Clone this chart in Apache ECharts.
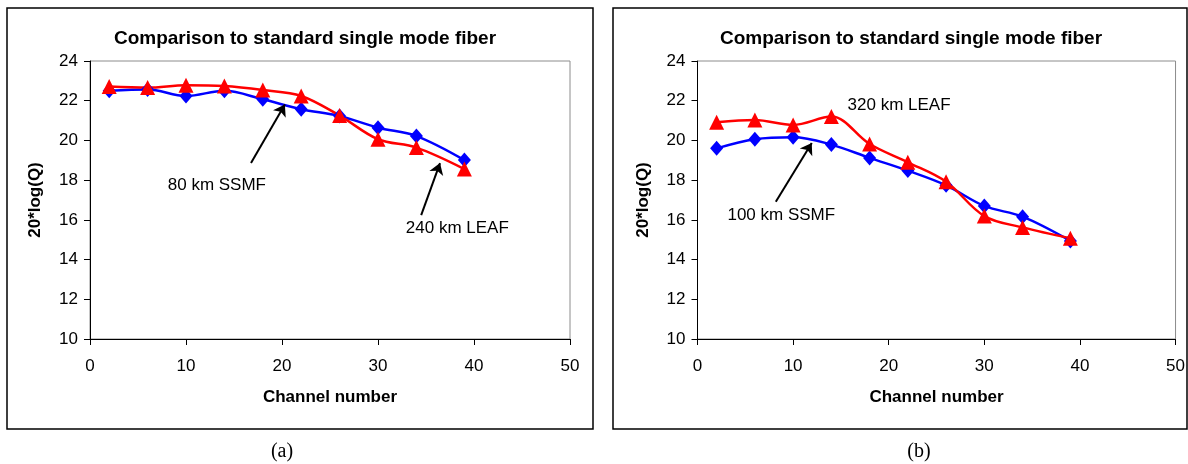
<!DOCTYPE html>
<html>
<head>
<meta charset="utf-8">
<script src="https://cdn.jsdelivr.net/npm/echarts@6/dist/echarts.min.js"></script>
<style>
  html, body { margin: 0; padding: 0; background: #fff; }
  #chart { width: 1188px; height: 464px; }
</style>
</head>
<body>
<div id="chart"></div>
<script>
// channel numbers (x) shared by all curves
const channels = [2, 6, 10, 14, 18, 22, 26, 30, 34, 39]
// (a)
const ssmf80 = [22.5, 22.57, 22.24, 22.5, 22.07, 21.57, 21.23, 20.64, 20.22, 19.01]
const leaf240 = [22.71, 22.66, 22.78, 22.74, 22.54, 22.24, 21.25, 20.06, 19.64, 18.56]
// (b)
const ssmf100 = [19.6, 20.06, 20.16, 19.79, 19.12, 18.48, 17.74, 16.7, 16.16, 14.94]
const leaf320 = [20.91, 21.03, 20.78, 21.2, 19.82, 18.9, 17.92, 16.19, 15.62, 15.07]

const titleText = 'Comparison to standard single mode fiber'
const xName = 'Channel number'
const yName = '20*log(Q)'
const captions = ['(a)', '(b)']

const font = 'Arial, "Liberation Sans", sans-serif'

function pairs(ys) {
  return channels.map((x, i) => [x, ys[i]])
}

// arrows, in data coordinates: [from, to]
const arrows = [
  [0, [16.77, 18.86], [20.3, 21.81]],
  [0, [34.5, 16.24], [36.46, 18.86]],
  [1, [8.19, 16.91], [11.95, 19.87]]
]
// annotation texts, in data coordinates (left edge, middle)
const notes = [
  [0, '80 km SSMF', [8.1, 17.76]],
  [0, '240 km LEAF', [32.9, 15.59]],
  [1, '320 km LEAF', [15.7, 21.78]],
  [1, '100 km SSMF', [3.13, 16.24]]
]

function xAxis(i) {
  return {
    type: 'value', gridIndex: i, min: 0, max: 50, interval: 10,
    name: xName, nameLocation: 'middle', nameGap: 50,
    nameTextStyle: { fontFamily: font, fontSize: 17, fontWeight: 'bold', color: '#000' },
    axisLine: { lineStyle: { color: '#000', width: 1 } },
    axisTick: { inside: false, length: 6, lineStyle: { color: '#000' } },
    axisLabel: { fontFamily: font, fontSize: 17, color: '#000', margin: 19 },
    splitLine: { show: false }
  }
}

function yAxis(i) {
  return {
    type: 'value', gridIndex: i, min: 10, max: 24, interval: 2,
    name: yName, nameLocation: 'middle', nameGap: 46, nameRotate: 90,
    nameTextStyle: { fontFamily: font, fontSize: 17, fontWeight: 'bold', color: '#000' },
    axisLine: { show: true, lineStyle: { color: '#000', width: 1 } },
    axisTick: { show: true, length: 6, lineStyle: { color: '#000' } },
    axisLabel: { fontFamily: font, fontSize: 17, color: '#000', margin: 12 },
    splitLine: { show: false }
  }
}

function curve(i, name, ys, color, symbol, size) {
  return {
    name: name, type: 'line', xAxisIndex: i, yAxisIndex: i,
    data: pairs(ys), smooth: 0.35,
    symbol: symbol, symbolSize: size, showSymbol: true,
    lineStyle: { color: color, width: 2.5 },
    itemStyle: { color: color },
    animation: false
  }
}

function arrowSeries(i) {
  return {
    type: 'line', xAxisIndex: i, yAxisIndex: i, data: [], silent: true,
    markLine: {
      silent: true, animation: false,
      symbol: ['none', 'arrow'], symbolSize: 11,
      lineStyle: { color: '#000', width: 2, type: 'solid' },
      label: { show: false },
      data: arrows.filter(a => a[0] === i).map(a => [
        { coord: a[1], symbol: 'none' },
        { coord: a[2], symbol: 'arrow', symbolSize: 11 }
      ])
    }
  }
}

const chart = echarts.init(document.getElementById('chart'), null, { renderer: 'canvas' })

const option = {
  animation: false,
  backgroundColor: '#fff',
  title: [
    { text: titleText, left: 300, top: 24, textAlign: 'center',
      textStyle: { fontFamily: font, fontSize: 19, fontWeight: 'bold', color: '#000' } },
    { text: titleText, left: 906, top: 24, textAlign: 'center',
      textStyle: { fontFamily: font, fontSize: 19, fontWeight: 'bold', color: '#000' } }
  ],
  grid: [
    { left: 90, top: 61, width: 480, height: 278, show: true, borderColor: '#8c8c8c', borderWidth: 1 },
    { left: 697.5, top: 61, width: 479, height: 278, show: true, borderColor: '#8c8c8c', borderWidth: 1 }
  ],
  xAxis: [xAxis(0), xAxis(1)],
  yAxis: [yAxis(0), yAxis(1)],
  series: [
    curve(0, '80 km SSMF', ssmf80, '#0000ff', 'diamond', [13, 15]),
    curve(0, '240 km LEAF', leaf240, '#ff0000', 'triangle', 15),
    curve(1, '100 km SSMF', ssmf100, '#0000ff', 'diamond', [13, 15]),
    curve(1, '320 km LEAF', leaf320, '#ff0000', 'triangle', 15),
    arrowSeries(0),
    arrowSeries(1)
  ]
}
chart.setOption(option)

// frames, captions and annotation texts
const graphics = [
  { type: 'rect', shape: { x: 7, y: 8, width: 586, height: 421 },
    style: { fill: 'none', stroke: '#000', lineWidth: 1.5 }, silent: true },
  { type: 'rect', shape: { x: 613, y: 8, width: 574, height: 421 },
    style: { fill: 'none', stroke: '#000', lineWidth: 1.5 }, silent: true },
  { type: 'text', x: 282, y: 452,
    style: { text: captions[0], font: '20px "Liberation Serif", "Times New Roman", serif', fill: '#000', textAlign: 'center', textVerticalAlign: 'middle' } },
  { type: 'text', x: 919, y: 452,
    style: { text: captions[1], font: '20px "Liberation Serif", "Times New Roman", serif', fill: '#000', textAlign: 'center', textVerticalAlign: 'middle' } }
]
notes.forEach(n => {
  const p = chart.convertToPixel({ gridIndex: n[0] }, n[2])
  graphics.push({
    type: 'text', x: p[0], y: p[1], z: 10,
    style: { text: n[1], font: '17px ' + font, fill: '#000', textAlign: 'left', textVerticalAlign: 'middle' }
  })
})
chart.setOption({ graphic: graphics })
</script>
</body>
</html>
